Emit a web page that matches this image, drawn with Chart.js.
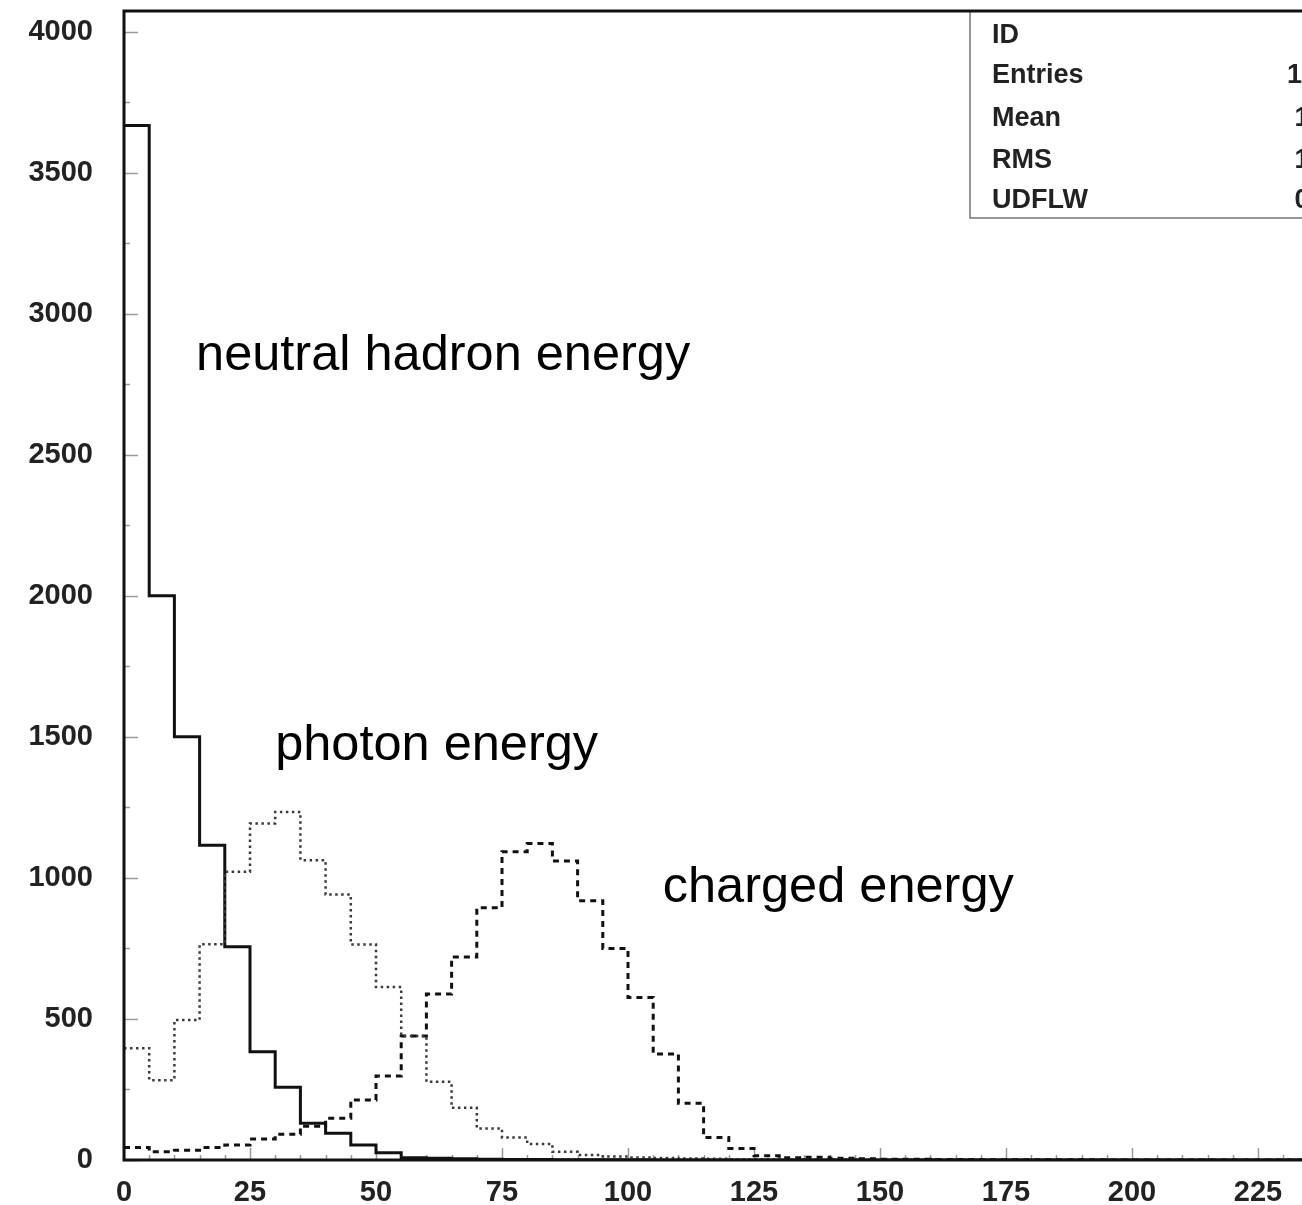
<!DOCTYPE html>
<html>
<head>
<meta charset="utf-8">
<title>Energy spectra</title>
<script src="https://cdn.jsdelivr.net/npm/chart.js@4.4.1/dist/chart.umd.min.js"></script>
<style>
  html, body { margin: 0; padding: 0; background: #fff; overflow: hidden; }
  #wrap { width: 1400px; height: 1205px; }
</style>
</head>
<body>
<div id="wrap"><canvas id="hist" width="1400" height="1205"></canvas></div>
<script>
// Energy histograms, 5 GeV bins from 0 to 250
const BIN_WIDTH = 5;
const X_MAX = 250;
const Y_MAX = 4073;

const neutralHadron = [
  3667, 2000, 1500, 1116, 756, 384, 258, 130, 95, 53,
  26, 8, 6, 4, 3, 2, 2, 1, 1, 1,
  1, 0, 0, 0, 0, 0, 0, 0, 0, 0,
  0, 0, 0, 0, 0, 0, 0, 0, 0, 0,
  0, 0, 0, 0, 0, 0, 0, 0, 0, 0
];

const photon = [
  396, 283, 496, 765, 1022, 1193, 1234, 1063, 941, 764,
  613, 440, 277, 185, 112, 80, 57, 29, 18, 12,
  9, 7, 5, 4, 3, 3, 2, 2, 2, 1,
  1, 1, 1, 0, 0, 0, 0, 0, 0, 0,
  0, 0, 0, 0, 0, 0, 0, 0, 0, 0
];

const charged = [
  44, 29, 35, 44, 53, 74, 91, 120, 148, 213,
  298, 440, 588, 720, 894, 1093, 1122, 1060, 919, 750,
  576, 376, 201, 80, 41, 15, 8, 10, 6, 4,
  3, 3, 2, 2, 1, 1, 1, 1, 1, 0,
  0, 0, 0, 0, 0, 0, 0, 0, 0, 0
];

const xTickValues = [0, 25, 50, 75, 100, 125, 150, 175, 200, 225, 250];
const yTickValues = [0, 500, 1000, 1500, 2000, 2500, 3000, 3500, 4000];
const X_MINOR = 5;
const Y_MINOR = 250;

const curveLabels = ['neutral hadron energy', 'photon energy', 'charged energy'];
const statNames = ['ID', 'Entries', 'Mean', 'RMS', 'UDFLW'];
const statValues = ['300', '10000', '15.12', '12.79', '0.000'];

// where the curve captions sit, in data units (x = energy, y = baseline count)
const captionAt = [
  { x: 14.3, y: 2800 },
  { x: 30.0, y: 1418 },
  { x: 106.9, y: 914 }
];

// left-edge points plus a closing point, drawn with step-before
function toSteps(values) {
  const pts = values.map((v, i) => ({ x: i * BIN_WIDTH, y: v }));
  pts.push({ x: values.length * BIN_WIDTH, y: values[values.length - 1] });
  return pts;
}

const TICK_FONT = { family: '"Liberation Sans", Arial, sans-serif', size: 29, weight: 'bold', lineHeight: 1 };

// the frame is placed by hand, so drop the label overhang padding
function noOverhang(s) {
  s.paddingTop = 0;
  s.paddingBottom = 0;
  s.paddingLeft = 0;
  s.paddingRight = 0;
}

// inward tick marks, frame, stats box and captions
const paperPlugin = {
  id: 'paper',
  beforeDatasetsDraw(chart) {
    const { ctx, chartArea: a, scales: { x, y } } = chart;
    ctx.save();
    ctx.strokeStyle = '#9a9a9a';
    ctx.lineWidth = 1.5;
    ctx.beginPath();
    for (let v = 0; v <= Y_MAX; v += Y_MINOR) {
      const py = Math.round(y.getPixelForValue(v)) + 0.5;
      const len = v % 500 === 0 ? 14 : 6;
      ctx.moveTo(a.left, py);
      ctx.lineTo(a.left + len, py);
    }
    for (let v = 0; v <= X_MAX; v += X_MINOR) {
      const px = Math.round(x.getPixelForValue(v)) + 0.5;
      const len = v % 25 === 0 ? 12 : 5;
      ctx.moveTo(px, a.bottom);
      ctx.lineTo(px, a.bottom - len);
    }
    ctx.stroke();
    ctx.restore();
  },
  afterDatasetsDraw(chart) {
    const { ctx, chartArea: a, scales: { x, y } } = chart;
    ctx.save();

    // stats box in the top-right corner
    const boxLeft = a.left + 846;
    const boxBottom = 218;
    ctx.strokeStyle = '#777';
    ctx.lineWidth = 1.5;
    ctx.beginPath();
    ctx.moveTo(boxLeft, a.top);
    ctx.lineTo(boxLeft, boxBottom);
    ctx.lineTo(a.right, boxBottom);
    ctx.stroke();

    ctx.fillStyle = '#222';
    ctx.font = 'bold 27px "Liberation Sans", Arial, sans-serif';
    ctx.textBaseline = 'alphabetic';
    const rows = [43, 83, 126, 168, 208];
    statNames.forEach((name, i) => {
      ctx.textAlign = 'left';
      ctx.fillText(name, boxLeft + 22, rows[i]);
      ctx.textAlign = 'right';
      ctx.fillText(statValues[i], 1362, rows[i]);
    });

    // curve captions
    ctx.fillStyle = '#000';
    ctx.font = '50.5px "Liberation Sans", Arial, sans-serif';
    ctx.textAlign = 'left';
    curveLabels.forEach((txt, i) => {
      ctx.fillText(txt, x.getPixelForValue(captionAt[i].x), y.getPixelForValue(captionAt[i].y));
    });

    // frame
    ctx.strokeStyle = '#111';
    ctx.lineWidth = 3;
    ctx.strokeRect(a.left, a.top, a.right - a.left, a.bottom - a.top);
    ctx.restore();
  }
};

const stepLine = (data, color, width, dash) => ({
  data: toSteps(data),
  borderColor: color,
  borderWidth: width,
  borderDash: dash,
  stepped: true,
  pointRadius: 0,
  fill: false
});

new Chart(document.getElementById('hist'), {
  type: 'line',
  data: {
    datasets: [
      stepLine(photon, '#3a3a3a', 2.5, [2.5, 3.5]),
      stepLine(charged, '#111', 3, [6, 5]),
      stepLine(neutralHadron, '#111', 3, [])
    ]
  },
  options: {
    responsive: false,
    devicePixelRatio: 1,
    animation: false,
    layout: { padding: { top: 11, right: 16, left: 0, bottom: 0 } },
    plugins: { legend: { display: false }, tooltip: { enabled: false } },
    scales: {
      x: {
        type: 'linear',
        min: 0,
        max: X_MAX,
        grid: { display: false, drawTicks: false },
        border: { display: false },
        afterBuildTicks: (s) => { s.ticks = xTickValues.map(v => ({ value: v })); },
        afterFit: (s) => { s.height = 45; noOverhang(s); },
        ticks: { font: TICK_FONT, color: '#222', padding: 18, maxRotation: 0, autoSkip: false, callback: (v) => String(v) }
      },
      y: {
        type: 'linear',
        min: 0,
        max: Y_MAX,
        grid: { display: false, drawTicks: false },
        border: { display: false },
        afterBuildTicks: (s) => { s.ticks = yTickValues.map(v => ({ value: v })); },
        afterFit: (s) => { s.width = 124; noOverhang(s); },
        ticks: { font: TICK_FONT, color: '#222', padding: 31, callback: (v) => String(v) }
      }
    }
  },
  plugins: [paperPlugin]
});
</script>
</body>
</html>
